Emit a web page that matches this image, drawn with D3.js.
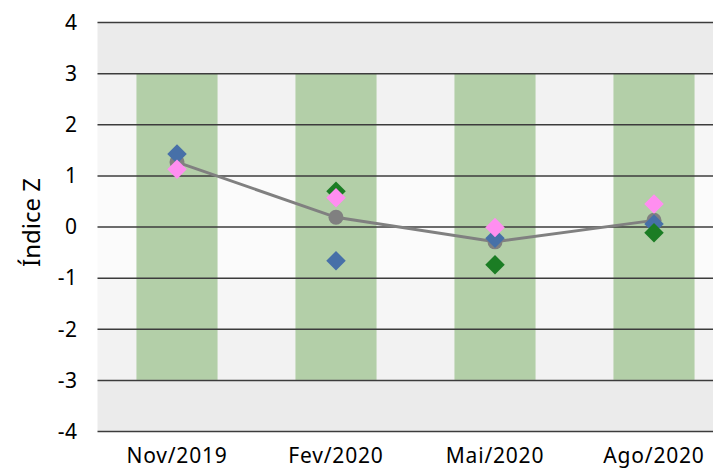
<!DOCTYPE html>
<html>
<head>
<meta charset="utf-8">
<script src="https://cdn.jsdelivr.net/npm/d3@7"></script>
<style>
  body { margin: 0; background: #fff; }
  text { font-family: "Noto Sans", Lato, sans-serif; fill: #000; }
</style>
</head>
<body>
<div id="chart"></div>
<script>
// data
var periods = ["Nov/2019", "Fev/2020", "Mai/2020", "Ago/2020"];
var serieMedia = [1.26, 0.18, -0.30, 0.12];   // grey line + circles
var serieAzul = [1.42, -0.67, -0.23, 0.05];
var serieVerde = [null, 0.69, -0.75, -0.12];
var serieRosa = [1.12, 0.56, -0.02, 0.44];
var yTicks = [-4, -3, -2, -1, 0, 1, 2, 3, 4];
var bandas = [[3, 4, "#ebebeb"], [2, 3, "#f2f2f2"], [1, 2, "#f6f6f6"], [-1, 1, "#fbfbfb"],
  [-2, -1, "#f6f6f6"], [-3, -2, "#f2f2f2"], [-4, -3, "#ebebeb"]];

var svgwdth = 713;
var svghght = 471;

var margin = {top: 22, left: 97.5};
var plotRight = 733.5;   // plot runs past the right edge, like the original
var plotBottom = 431;

var svg = d3.select("#chart")
  .append("svg")
  .attr("width", svgwdth)
  .attr("height", svghght);

var x = d3.scalePoint()
  .domain(periods)
  .range([margin.left, plotRight])
  .padding(0.5);

var y = d3.scaleLinear()
  .domain([-4, 4])
  .range([plotBottom, margin.top]);

var barW = x.step() * 0.51;

// background bands
svg.append("g").selectAll("rect")
  .data(bandas)
  .enter().append("rect")
  .attr("x", margin.left)
  .attr("width", plotRight - margin.left)
  .attr("y", d => y(d[1]))
  .attr("height", d => y(d[0]) - y(d[1]))
  .attr("fill", d => d[2]);

// green columns from -3 to 3
svg.append("g").selectAll("rect")
  .data(periods)
  .enter().append("rect")
  .attr("x", d => x(d) - barW / 2)
  .attr("width", barW)
  .attr("y", y(3))
  .attr("height", y(-3) - y(3))
  .attr("fill", "#b3cfa8");

// y axis with gridlines
var leftAxis = d3.axisLeft(y)
  .tickValues(yTicks)
  .tickSize(-(plotRight - margin.left))
  .tickPadding(20)
  .tickFormat(d => String(d));

var yAxis = svg.append("g")
  .attr("transform", `translate(${margin.left},0)`)
  .call(leftAxis);
yAxis.select(".domain").remove();
yAxis.selectAll("line").attr("stroke", "#3c3c3c").attr("stroke-width", 1.5);
yAxis.selectAll("text").attr("font-size", 21).attr("dy", "0.35em")
  .style("font-family", "'Noto Sans', sans-serif")
  .style("letter-spacing", "0.5px");

// x labels
svg.append("g").selectAll("text")
  .data(periods)
  .enter().append("text")
  .attr("x", d => x(d))
  .attr("y", 463)
  .attr("text-anchor", "middle")
  .attr("font-size", 21)
  .style("letter-spacing", "0.8px")
  .text(d => d);

// y title
svg.append("text")
  .attr("transform", "rotate(-90)")
  .attr("x", -(y(0)) + 4)
  .attr("y", 40)
  .attr("text-anchor", "middle")
  .attr("font-size", 24)
  .text("Índice Z");

// grey line
var line = d3.line()
  .x((d, i) => x(periods[i]))
  .y(d => y(d));

svg.append("path")
  .datum(serieMedia)
  .attr("d", line)
  .attr("fill", "none")
  .attr("stroke", "#808080")
  .attr("stroke-width", 3);

svg.append("g").selectAll("circle")
  .data(serieMedia)
  .enter().append("circle")
  .attr("cx", (d, i) => x(periods[i]))
  .attr("cy", d => y(d))
  .attr("r", 7.5)
  .attr("fill", "#808080");

// diamonds
var diamond = d3.symbol().type(d3.symbolSquare).size(190);

function drawDiamonds(values, color) {
  svg.append("g").selectAll("path")
    .data(values.map((v, i) => ({p: periods[i], v: v})).filter(d => d.v !== null))
    .enter().append("path")
    .attr("d", diamond)
    .attr("transform", d => `translate(${x(d.p)},${y(d.v)}) rotate(45)`)
    .attr("fill", color);
}

drawDiamonds(serieAzul, "#4770a8");
drawDiamonds(serieVerde, "#1b7d24");
drawDiamonds(serieRosa, "#ff8ef0");
</script>
</body>
</html>
